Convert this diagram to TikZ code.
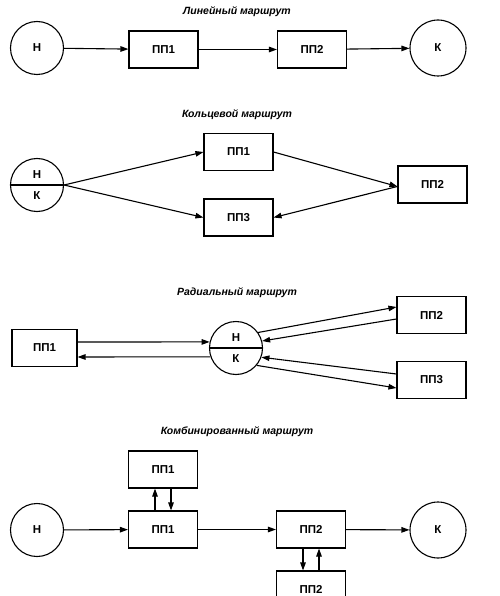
\documentclass[tikz,border=0pt]{standalone}
\usepackage{fontspec}
\setmainfont{Liberation Sans}
\usetikzlibrary{arrows.meta}
\begin{document}
\begin{tikzpicture}[x=1pt,y=-1pt,
  lbl/.style={font=\fontsize{11.5}{13}\selectfont\bfseries},
  box/.style={draw,line width=1.1pt,minimum width=69pt,minimum height=37pt,inner sep=0pt,lbl},
  endc/.style={draw,circle,line width=1.1pt,minimum size=53pt,inner sep=0pt,lbl},
  ttl/.style={font=\fontsize{10.5}{12}\selectfont\bfseries\itshape},
  arr/.style={line width=1.1pt,-{Triangle[length=8pt,width=5.5pt]}}]
\useasboundingbox[fill=white] (0,0) rectangle (499,596);
% ---------- Linear
\node[ttl] (t1) at (237,12) {Линейный маршрут};
\node[endc] (a1) at (37,48) {Н};
\node[box] (a2) at (163.5,49.5) {ПП1};
\node[box] (a3) at (312,49.5) {ПП2};
\node[endc,minimum size=56pt] (a4) at (438,48) {К};
\draw[arr] (a1) -- (a2);
\draw[arr] (a2) -- (a3);
\draw[arr] (a3) -- (a4);
% ---------- Ring
\node[ttl] (t2) at (237,115) {Кольцевой маршрут};
\node[endc] (b0) at (37,185) {};
\draw[line width=1.1pt] (b0.west) -- (b0.east);
\node[lbl] (b0n) at (37,175) {Н};
\node[lbl] (b0k) at (37,196) {К};
\node[box] (b1) at (238.5,152) {ПП1};
\node[box] (b3) at (238.5,217.5) {ПП3};
\node[box] (b2) at (432.5,184.5) {ПП2};
\draw[arr] (b0.east) -- (b1.west);
\draw[arr] (b0.east) -- (b3.west);
\draw[arr] (b1.east) -- ([yshift=-2pt]b2.west);
\draw[arr] ([yshift=-2pt]b2.west) -- (b3.east);
% ---------- Radial
\node[ttl] (t3) at (237,293) {Радиальный маршрут};
\node[box,minimum width=65pt] (c1) at (44.5,348) {ПП1};
\node[endc] (c0) at (236,348) {};
\draw[line width=1.1pt] (c0.west) -- (c0.east);
\node[lbl] (c0n) at (236,338) {Н};
\node[lbl] (c0k) at (236,359) {К};
\node[box] (c2) at (431.5,315) {ПП2};
\node[box] (c3) at (431.5,380) {ПП3};
\draw[arr] ([yshift=6pt]c1.east) -- (c0.167);
\draw[arr] (c0.199) -- ([yshift=-9pt]c1.east);
\draw[arr] (c0.35) -- ([yshift=8pt]c2.west);
\draw[arr] ([yshift=-4pt]c2.west) -- (c0.15);
\draw[arr] ([yshift=6pt]c3.west) -- (c0.-20);
\draw[arr] (c0.-40) -- ([yshift=-8pt]c3.west);
% ---------- Combined
\node[ttl] (t4) at (237,432) {Комбинированный маршрут};
\node[box] (d5) at (163,469.5) {ПП1};
\node[endc] (d1) at (37,530) {Н};
\node[box] (d2) at (163,529.5) {ПП1};
\node[box] (d3) at (311,529.5) {ПП2};
\node[endc,minimum size=56pt] (d4) at (438,530) {К};
\node[box] (d6) at (311,589.5) {ПП2};
\draw[arr] (d1) -- (d2);
\draw[arr] (d2) -- (d3);
\draw[arr] (d3) -- (d4);
\draw[arr] ([xshift=-8pt]d2.north) -- ([xshift=-8pt]d5.south);
\draw[arr] ([xshift=8pt]d5.south) -- ([xshift=8pt]d2.north);
\draw[arr] ([xshift=-8pt]d3.south) -- ([xshift=-8pt]d6.north);
\draw[arr] ([xshift=8pt]d6.north) -- ([xshift=8pt]d3.south);
\end{tikzpicture}
\end{document}
